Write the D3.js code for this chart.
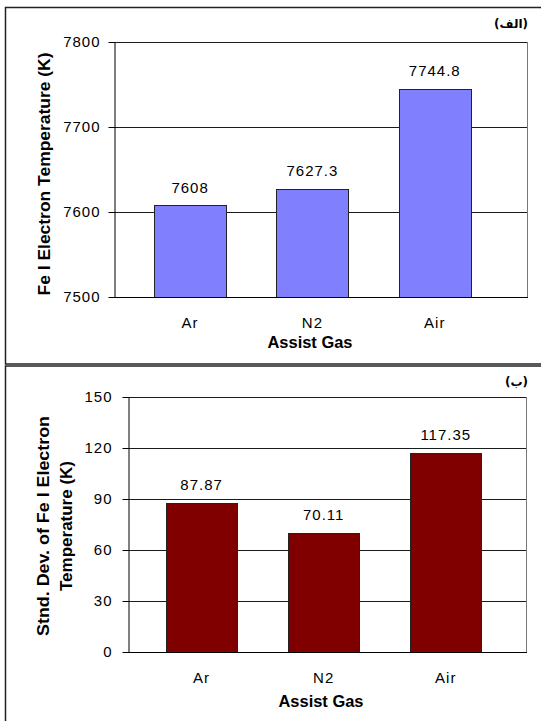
<!DOCTYPE html>
<html>
<head>
<meta charset="utf-8">
<script src="https://cdn.jsdelivr.net/npm/d3@7"></script>
<style>
  body { margin: 0; background: #fff; }
  svg { display: block; }
  text { font-family: "Liberation Sans", Arial, sans-serif; fill: #000; }
  .tick text, .cat, .val { font-size: 15px; letter-spacing: 1px; }
  .title { font-size: 16px; font-weight: bold; }
  .tag { font-family: "DejaVu Sans", sans-serif; font-size: 12px; font-weight: bold; }
</style>
</head>
<body>
<div id="chart"></div>
<script>
const gases = ['Ar', 'N2', 'Air'];
const tempValues = [7608, 7627.3, 7744.8];
const tempLabels = ['7608', '7627.3', '7744.8'];
const tempTicks = [7500, 7600, 7700, 7800];
const stdValues = [87.87, 70.11, 117.35];
const stdLabels = ['87.87', '70.11', '117.35'];
const stdTicks = [0, 30, 60, 90, 120, 150];

const svg = d3.select('#chart').append('svg')
  .attr('width', 541)
  .attr('height', 721);

// panel frames
svg.append('rect')
  .attr('x', 5.5).attr('y', 7.5)
  .attr('width', 560).attr('height', 356.5)
  .attr('fill', 'none').attr('stroke', '#222').attr('stroke-width', 1.5);
svg.append('rect')
  .attr('x', 5.5).attr('y', 366)
  .attr('width', 560).attr('height', 400)
  .attr('fill', 'none').attr('stroke', '#222').attr('stroke-width', 1.5);

// arabic tag drawn as three pieces so the brackets stay where they belong
const drawTag = (g, word, right, baseline) => {
  let x = right;
  [')', word, '('].forEach((piece) => {
    const t = g.append('text')
      .attr('class', 'tag')
      .attr('text-anchor', 'end')
      .attr('x', x)
      .attr('y', baseline)
      .text(piece);
    x -= t.node().getComputedTextLength();
  });
};

const drawPanel = (p) => {
  const g = svg.append('g');

  const y = d3.scaleLinear()
    .domain([p.ticks[0], p.ticks[p.ticks.length - 1]])
    .range([p.bottom, p.top]);

  const x = d3.scaleBand()
    .domain(gases)
    .range([p.left, p.right])
    .paddingInner(p.padInner)
    .paddingOuter(p.padOuter)
    .align(p.align);

  // gridlines
  g.append('g').selectAll('line')
    .data(p.ticks.slice(1))
    .enter()
    .append('line')
    .attr('x1', p.left).attr('x2', p.right)
    .attr('y1', (d) => Math.round(y(d)) + 0.5)
    .attr('y2', (d) => Math.round(y(d)) + 0.5)
    .attr('stroke', '#1a1a1a');

  // right border of plot area
  g.append('line')
    .attr('x1', p.right + 0.5).attr('x2', p.right + 0.5)
    .attr('y1', p.top).attr('y2', p.bottom)
    .attr('stroke', '#777');

  // bars
  g.append('g').selectAll('rect')
    .data(p.values)
    .enter()
    .append('rect')
    .attr('x', (d, i) => Math.round(x(gases[i])) + 0.5)
    .attr('y', (d) => Math.round(y(d)) + 0.5)
    .attr('width', Math.round(x.bandwidth()))
    .attr('height', (d) => Math.round(y(p.ticks[0])) - Math.round(y(d)))
    .attr('fill', p.color)
    .attr('stroke', '#222');

  // value labels
  g.append('g').selectAll('text')
    .data(p.values)
    .enter()
    .append('text')
    .attr('class', 'val')
    .attr('text-anchor', 'middle')
    .attr('x', (d, i) => x(gases[i]) + x.bandwidth() / 2)
    .attr('y', (d) => y(d) - 12.5)
    .text((d, i) => p.labels[i]);

  // y axis
  const yAxis = g.append('g')
    .attr('transform', `translate(${p.left + 0.5},0)`)
    .call(d3.axisLeft(y).tickValues(p.ticks).tickFormat(d3.format('d'))
      .tickSize(6).tickPadding(p.tickPad).tickSizeOuter(0));
  yAxis.selectAll('path, line').attr('stroke', '#000');

  // x axis
  const xAxis = g.append('g')
    .attr('transform', `translate(0,${Math.round(y(p.ticks[0])) + 0.5})`)
    .call(d3.axisBottom(x).tickSize(0).tickPadding(p.catPad).tickSizeOuter(0));
  xAxis.select('.domain').attr('stroke', '#000').attr('d', `M${p.left},0H${p.right + 1}`);
  xAxis.selectAll('.tick text').attr('class', 'cat');

  // x title
  g.append('text')
    .attr('class', 'title')
    .attr('text-anchor', 'middle')
    .attr('x', p.xTitleX)
    .attr('y', p.xTitleY)
    .attr('textLength', 85)
    .attr('lengthAdjust', 'spacingAndGlyphs')
    .text('Assist Gas');

  // y title
  p.yTitle.forEach((line, i) => {
    g.append('text')
      .attr('class', 'title')
      .attr('text-anchor', 'middle')
      .attr('dominant-baseline', 'central')
      .attr('transform', `translate(${p.yTitleX[i]},${p.yTitleY}) rotate(-90)`)
      .attr('textLength', p.yTitleLen[i])
      .attr('lengthAdjust', 'spacingAndGlyphs')
      .text(line);
  });

  drawTag(g, p.tag, 528, p.tagY);
};

drawPanel({
  values: tempValues,
  labels: tempLabels,
  ticks: tempTicks,
  color: '#8080ff',
  left: 114, right: 527, top: 42, bottom: 297,
  padInner: 0.41, padOuter: 0.393, align: 0.416,
  tickPad: 8, catPad: 20,
  xTitleX: 310, xTitleY: 348,
  yTitle: ['Fe I Electron Temperature (K)'],
  yTitleX: [44], yTitleY: 174, yTitleLen: [243],
  tag: 'الف', tagY: 28,
});

drawPanel({
  values: stdValues,
  labels: stdLabels,
  ticks: stdTicks,
  color: '#800000',
  left: 128, right: 526, top: 397, bottom: 652,
  padInner: 0.42, padOuter: 0.34, align: 0.46,
  tickPad: 10, catPad: 20,
  xTitleX: 321, xTitleY: 707,
  yTitle: ['Stnd. Dev. of Fe I Electron', 'Temperature (K)'],
  yTitleX: [43, 66.5], yTitleY: 526, yTitleLen: [220, 130],
  tag: 'ب', tagY: 386,
});
</script>
</body>
</html>
